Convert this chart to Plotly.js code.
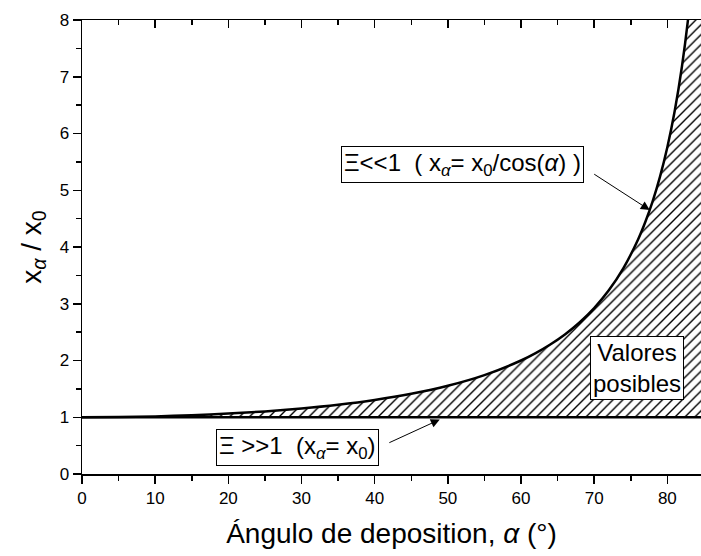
<!DOCTYPE html>
<html>
<head>
<meta charset="utf-8">
<script src="https://cdn.plot.ly/plotly-3.0.1.min.js"></script>
<style>
  html, body { margin: 0; padding: 0; background: #fff; }
  #chart { width: 701px; height: 556px; }
</style>
</head>
<body>
<div id="chart"></div>
<script>
// Deposition angle (degrees) and the ratio x_alpha / x_0 = 1 / cos(alpha)
const angles = [0, 5, 10, 15, 20, 25, 30, 35, 40, 45, 50, 55, 60, 62, 64, 66, 68, 70,
                72, 74, 76, 77, 78, 79, 80, 81, 82, 83, 84, 85];
const ratioCos = [1.0000, 1.0038, 1.0154, 1.0353, 1.0642, 1.1034, 1.1547, 1.2208, 1.3054,
                  1.4142, 1.5557, 1.7434, 2.0000, 2.1301, 2.2812, 2.4586, 2.6695, 2.9238,
                  3.2361, 3.6280, 4.1336, 4.4454, 4.8097, 5.2408, 5.7588, 6.3925, 7.1853,
                  8.2055, 9.5668, 11.474];

// Lower bound: x_alpha = x_0
const flatAngles = [0, 85];
const ratioFlat = [1, 1];

const xTicks = [0, 10, 20, 30, 40, 50, 60, 70, 80];
const yTicks = [0, 1, 2, 3, 4, 5, 6, 7, 8];

const FONT = 'Arial, "Liberation Sans", sans-serif';
const xRange = [0, 84.6];
const yRange = [0, 8];

const traces = [
  {
    x: flatAngles, y: ratioFlat, mode: 'lines', type: 'scatter',
    line: { color: '#000', width: 2.5 }, hoverinfo: 'skip', showlegend: false
  },
  {
    x: angles, y: ratioCos, mode: 'lines', type: 'scatter',
    line: { color: '#000', width: 2.5, shape: 'spline', smoothing: 0.8 },
    fill: 'tonexty', fillcolor: 'rgba(0,0,0,0)',
    fillpattern: { shape: '/', fgcolor: '#000', bgcolor: '#fff', size: 7, solidity: 0.2 },
    hoverinfo: 'skip', showlegend: false
  },
  // carrier for the top axis (inward ticks)
  {
    x: xRange, y: yRange, xaxis: 'x2', mode: 'markers', type: 'scatter',
    marker: { opacity: 0 }, hoverinfo: 'skip', showlegend: false
  }
];

const boxFont = { family: FONT, size: 24, color: '#000' };

const layout = {
  width: 701, height: 556,
  margin: { l: 81.5, r: 0, t: 19.5, b: 82 },
  paper_bgcolor: '#fff', plot_bgcolor: '#fff',
  showlegend: false,
  font: { family: FONT, color: '#000' },
  xaxis: {
    range: xRange, tickvals: xTicks, ticktext: xTicks.map(String),
    showgrid: false, zeroline: false,
    showline: true, linecolor: '#000', linewidth: 1.5,
    ticks: 'outside', ticklen: 8, tickwidth: 1.5, tickcolor: '#000',
    minor: { dtick: 5, tick0: 0, ticks: 'outside', ticklen: 5, tickwidth: 1.5, tickcolor: '#000', showgrid: false },
    tickfont: { family: FONT, size: 17, color: '#000' },
    title: { text: 'Ángulo de deposition, <i>α</i> (°)', font: { family: FONT, size: 28, color: '#000' }, standoff: 16 }
  },
  xaxis2: {
    range: xRange, overlaying: 'x', side: 'top', anchor: 'y',
    tickvals: xTicks, showticklabels: false,
    showgrid: false, zeroline: false,
    showline: true, linecolor: '#000', linewidth: 1.5,
    ticks: 'inside', ticklen: 8, tickwidth: 1.5, tickcolor: '#000',
    minor: { dtick: 5, tick0: 0, ticks: 'inside', ticklen: 5, tickwidth: 1.5, tickcolor: '#000', showgrid: false }
  },
  yaxis: {
    range: yRange, tickvals: yTicks, ticktext: yTicks.map(String),
    showgrid: false, zeroline: false,
    showline: true, linecolor: '#000', linewidth: 1.5,
    ticks: 'outside', ticklen: 8, tickwidth: 1.5, tickcolor: '#000',
    minor: { dtick: 0.5, tick0: 0, ticks: 'outside', ticklen: 5, tickwidth: 1.5, tickcolor: '#000', showgrid: false },
    tickfont: { family: FONT, size: 17, color: '#000' },
    title: { text: 'x<sub><i>α</i></sub> / x<sub>0</sub>', font: { family: FONT, size: 28, color: '#000' }, standoff: 10 }
  },
  annotations: [
    {
      x: 52.05, y: 5.46, xref: 'x', yref: 'y', showarrow: false,
      text: 'Ξ<<1  ( x<sub><i>α</i></sub>= x<sub>0</sub>/cos(<i>α</i>) )',
      font: boxFont, bgcolor: '#fff', bordercolor: '#000', borderwidth: 1, borderpad: 2
    },
    {
      x: 29.4, y: 0.47, xref: 'x', yref: 'y', showarrow: false,
      text: 'Ξ >>1  (x<sub><i>α</i></sub>= x<sub>0</sub>)',
      font: boxFont, bgcolor: '#fff', bordercolor: '#000', borderwidth: 1, borderpad: 2
    },
    {
      x: 75.8, y: 1.87, xref: 'x', yref: 'y', showarrow: false,
      text: 'Valores<br>posibles',
      font: boxFont, bgcolor: '#fff', bordercolor: '#000', borderwidth: 1, borderpad: 2
    },
    {
      x: 77.6, y: 4.65, xref: 'x', yref: 'y',
      ax: 69.8, ay: 5.30, axref: 'x', ayref: 'y',
      text: '', showarrow: true, arrowhead: 2, arrowsize: 1.8, arrowwidth: 1, arrowcolor: '#000'
    },
    {
      x: 48.9, y: 0.96, xref: 'x', yref: 'y',
      ax: 41.8, ay: 0.54, axref: 'x', ayref: 'y',
      text: '', showarrow: true, arrowhead: 2, arrowsize: 1.8, arrowwidth: 1, arrowcolor: '#000'
    }
  ]
};

Plotly.newPlot('chart', traces, layout, { staticPlot: true, displayModeBar: false });
</script>
</body>
</html>
